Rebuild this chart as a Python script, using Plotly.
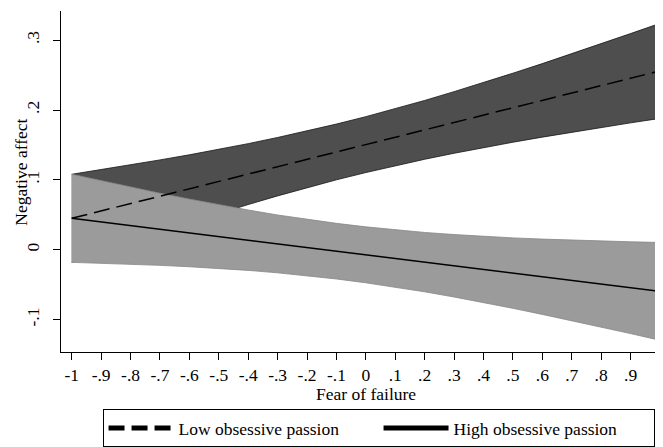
import plotly.graph_objects as go

# Fear of failure values (x)
fear = [-1.0, -0.9, -0.8, -0.7, -0.6, -0.5, -0.4, -0.3, -0.2, -0.1, 0.0,
        0.1, 0.2, 0.3, 0.4, 0.5, 0.6, 0.7, 0.8, 0.9, 1.0]

# Low obsessive passion: predicted value and CI
low_fit = [0.045, 0.0556, 0.0661, 0.0767, 0.0872, 0.0978, 0.1083, 0.1189, 0.1294, 0.1400, 0.1505,
           0.1611, 0.1716, 0.1822, 0.1927, 0.2033, 0.2138, 0.2244, 0.2349, 0.2455, 0.256]
low_upper = [0.108, 0.1147, 0.1214, 0.1286, 0.1359, 0.1437, 0.1519, 0.1607, 0.1699, 0.1799, 0.1905,
             0.2018, 0.2137, 0.2263, 0.2392, 0.2527, 0.2664, 0.2805, 0.2948, 0.3094, 0.324]
low_lower = [-0.018, -0.0035, 0.0108, 0.0248, 0.0385, 0.0519, 0.0647, 0.0771, 0.0889, 0.1001, 0.1105,
             0.1204, 0.1295, 0.1381, 0.1462, 0.1539, 0.1612, 0.1683, 0.1750, 0.1816, 0.188]

# High obsessive passion: predicted value and CI
high_fit = [0.045, 0.0398, 0.0346, 0.0293, 0.0241, 0.0189, 0.0137, 0.0084, 0.0032, -0.0020, -0.0073,
            -0.0125, -0.0177, -0.0229, -0.0282, -0.0334, -0.0386, -0.0438, -0.0491, -0.0543, -0.0595]
high_upper = [0.108, 0.0988, 0.0898, 0.0809, 0.0725, 0.0645, 0.0569, 0.0498, 0.0435, 0.0378, 0.0328,
              0.0284, 0.0248, 0.0218, 0.0191, 0.0170, 0.0153, 0.0138, 0.0124, 0.0114, 0.0105]
high_lower = [-0.018, -0.0192, -0.0206, -0.0223, -0.0243, -0.0267, -0.0295, -0.0330, -0.0371, -0.0418, -0.0473,
              -0.0534, -0.0602, -0.0676, -0.0755, -0.0838, -0.0925, -0.1014, -0.1106, -0.1200, -0.1295]

x_tickvals = fear
x_ticktext = ["-1", "-.9", "-.8", "-.7", "-.6", "-.5", "-.4", "-.3", "-.2", "-.1", "0",
              ".1", ".2", ".3", ".4", ".5", ".6", ".7", ".8", ".9", "1"]
y_tickvals = [-0.1, 0.0, 0.1, 0.2, 0.3]
y_ticktext = ["-.1", "0", ".1", ".2", ".3"]

FONT = "Liberation Serif, Times New Roman, serif"
FS = 17.5

fig = go.Figure()

# dark band (low passion CI)
fig.add_trace(go.Scatter(
    x=fear + fear[::-1], y=low_upper + low_lower[::-1],
    fill="toself", fillcolor="rgb(78,78,78)",
    line=dict(color="rgb(20,20,20)", width=0.8),
    mode="lines", showlegend=False, hoverinfo="skip"))

# light band (high passion CI)
fig.add_trace(go.Scatter(
    x=fear + fear[::-1], y=high_upper + high_lower[::-1],
    fill="toself", fillcolor="rgb(155,155,155)",
    line=dict(color="rgb(135,135,135)", width=0.8),
    mode="lines", showlegend=False, hoverinfo="skip"))

fig.add_trace(go.Scatter(
    x=fear, y=low_fit, mode="lines", name="Low obsessive passion",
    line=dict(color="black", width=1.5, dash="16px,7px")))

fig.add_trace(go.Scatter(
    x=fear, y=high_fit, mode="lines", name="High obsessive passion",
    line=dict(color="black", width=1.5)))

fig.update_layout(
    width=655, height=439,
    margin=dict(l=53, r=0, t=3, b=90),
    paper_bgcolor="white", plot_bgcolor="white",
    font=dict(family=FONT, size=FS, color="black"),
    showlegend=True,
    legend=dict(
        orientation="h",
        x=0.069, y=-0.168, xanchor="left", yanchor="top",
        bordercolor="black", borderwidth=1,
        font=dict(family=FONT, size=FS, color="black"),
        itemwidth=65, itemsizing="constant",
        entrywidth=195, entrywidthmode="pixels",
        bgcolor="white",
    ),
    xaxis=dict(
        range=[-1.0364, 1.0102],
        automargin=False,
        tickmode="array", tickvals=x_tickvals, ticktext=x_ticktext,
        ticks="outside", ticklen=7, tickwidth=1, tickcolor="black",
        ticklabeloverflow="allow",
        showline=True, linecolor="black", linewidth=1,
        showgrid=False, zeroline=False,
        tickfont=dict(family=FONT, size=FS),
    ),
    yaxis=dict(
        range=[-0.1463, 0.3417],
        automargin=False,
        tickmode="array", tickvals=y_tickvals, ticktext=y_ticktext,
        tickangle=-90,
        ticks="outside", ticklen=7, tickwidth=1, tickcolor="black",
        ticklabelstandoff=7,
        showline=True, linecolor="black", linewidth=1,
        showgrid=False, zeroline=False,
        tickfont=dict(family=FONT, size=FS),
    ),
    annotations=[
        dict(text="Fear of failure", xref="x", yref="paper", x=0.0, y=-0.087,
             xanchor="center", yanchor="top", showarrow=False,
             font=dict(family=FONT, size=FS, color="black")),
        dict(text="Negative affect", xref="paper", yref="paper", x=-0.0664, y=0.526,
             xanchor="center", yanchor="middle", textangle=-90, showarrow=False,
             font=dict(family=FONT, size=FS, color="black")),
    ],
)

fig.write_html("out.html")
